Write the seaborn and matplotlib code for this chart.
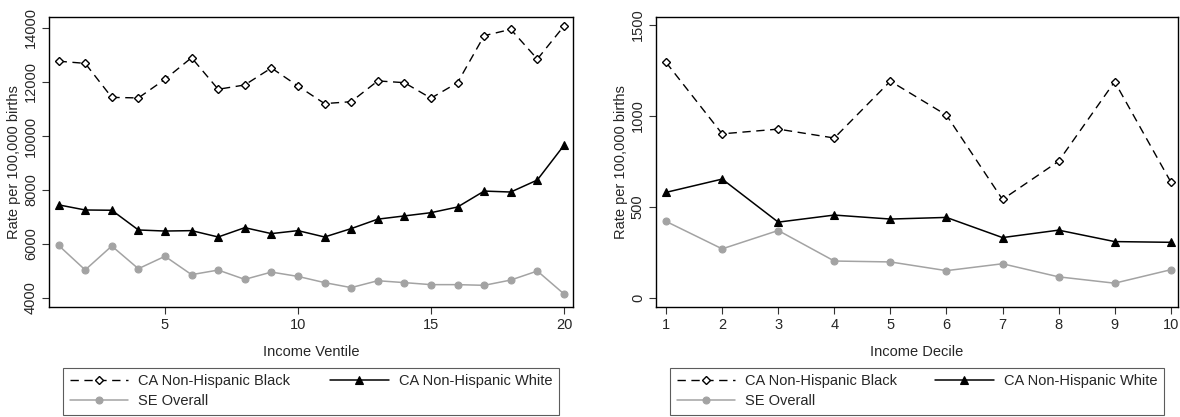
import matplotlib
matplotlib.use("Agg")
import matplotlib.pyplot as plt
import pandas as pd
import seaborn as sns

# --- data ---
ventiles = list(range(1, 21))
vent_black = [12770, 12690, 11430, 11410, 12100, 12900, 11730, 11890, 12520, 11850,
              11200, 11270, 12040, 11975, 11400, 11975, 13715, 13950, 12850, 14070]
vent_white = [7450, 7260, 7250, 6520, 6480, 6495, 6260, 6605, 6385, 6495,
              6260, 6570, 6920, 7040, 7160, 7370, 7960, 7925, 8370, 9655]
vent_se = [5950, 5040, 5925, 5085, 5545, 4865, 5035, 4690, 4960, 4800,
           4570, 4385, 4640, 4570, 4495, 4495, 4470, 4665, 5000, 4150]

deciles = list(range(1, 11))
dec_black = [1294, 901, 927, 878, 1191, 1004, 540, 750, 1188, 637]
dec_white = [579, 652, 415, 454, 432, 441, 330, 371, 308, 304]
dec_se = [419, 268, 369, 201, 196, 148, 186, 114, 79, 153]

series_labels = ["CA Non-Hispanic Black", "CA Non-Hispanic White", "SE Overall"]
ylabel = "Rate per 100,000 births"

sns.set_style("ticks")
plt.rcParams["font.family"] = ["Liberation Sans", "DejaVu Sans"]
plt.rcParams["font.size"] = 10.5

GREY = "#a3a3a3"
styles = {
    "CA Non-Hispanic Black": dict(color="black", marker="D", markersize=4.5,
                                  markerfacecolor="white", markeredgecolor="black",
                                  markeredgewidth=1.0, linestyle=(0, (6, 4)), linewidth=1.0),
    "CA Non-Hispanic White": dict(color="black", marker="^", markersize=6,
                                  markerfacecolor="black", markeredgecolor="black",
                                  linestyle="-", linewidth=1.1),
    "SE Overall": dict(color=GREY, marker="o", markersize=5, markerfacecolor=GREY,
                       markeredgecolor=GREY, linestyle="-", linewidth=1.1),
}

fig = plt.figure(figsize=(11.8, 4.17), dpi=100)
W, H = 1180, 417


def px_axes(x0, x1, y0, y1):
    return fig.add_axes([x0 / W, 1 - y1 / H, (x1 - x0) / W, (y1 - y0) / H])


def panel(ax, x, ys, xlabel, xlim, ylim, yticks, xticks):
    df = pd.DataFrame({"x": x})
    for lab, y in zip(series_labels, ys):
        df[lab] = y
    for lab in series_labels:
        st = styles[lab]
        sns.lineplot(data=df, x="x", y=lab, ax=ax, label=lab, color=st["color"],
                     marker=st["marker"], markersize=st["markersize"],
                     markerfacecolor=st["markerfacecolor"],
                     markeredgecolor=st["markeredgecolor"],
                     markeredgewidth=st.get("markeredgewidth", 0.8),
                     linestyle=st["linestyle"], linewidth=st["linewidth"])
    ax.set_xlim(*xlim)
    ax.set_ylim(*ylim)
    ax.set_xticks(xticks)
    ax.set_yticks(yticks)
    ax.set_xlabel(xlabel, labelpad=9)
    ax.set_ylabel(ylabel, labelpad=2)
    for lbl in ax.get_yticklabels():
        lbl.set_rotation(90)
        lbl.set_va("center")
    ax.tick_params(direction="out", length=5, width=0.8, color="#333333",
                   labelsize=10.5, pad=3)
    for s in ax.spines.values():
        s.set_visible(True)
        s.set_color("black")
        s.set_linewidth(1.0)
    # legend fills column-first: Black / SE in col 1, White in col 2
    handles, labels = ax.get_legend_handles_labels()
    order = [0, 2, 1]
    ax.legend([handles[i] for i in order], [labels[i] for i in order],
              loc="upper left", bbox_to_anchor=(0.027, -0.376, 0.946, 0.166),
              mode="expand", ncol=2, frameon=True, fancybox=False,
              edgecolor="#333333", handlelength=4, handletextpad=0.7,
              borderaxespad=0, borderpad=0.45, labelspacing=0.4,
              fontsize=10.5, numpoints=1)
    ax.get_legend().get_frame().set_linewidth(0.8)


ax1 = px_axes(49, 573, 17, 307)
panel(ax1, ventiles, [vent_black, vent_white, vent_se], "Income Ventile",
      (0.64, 20.34), (3667, 14407), [4000, 6000, 8000, 10000, 12000, 14000],
      [5, 10, 15, 20])

ax2 = px_axes(656, 1178, 17, 307)
panel(ax2, deciles, [dec_black, dec_white, dec_se], "Income Decile",
      (0.82, 10.13), (-52, 1544), [0, 500, 1000, 1500], deciles)

fig.savefig("out.png", dpi=100)
